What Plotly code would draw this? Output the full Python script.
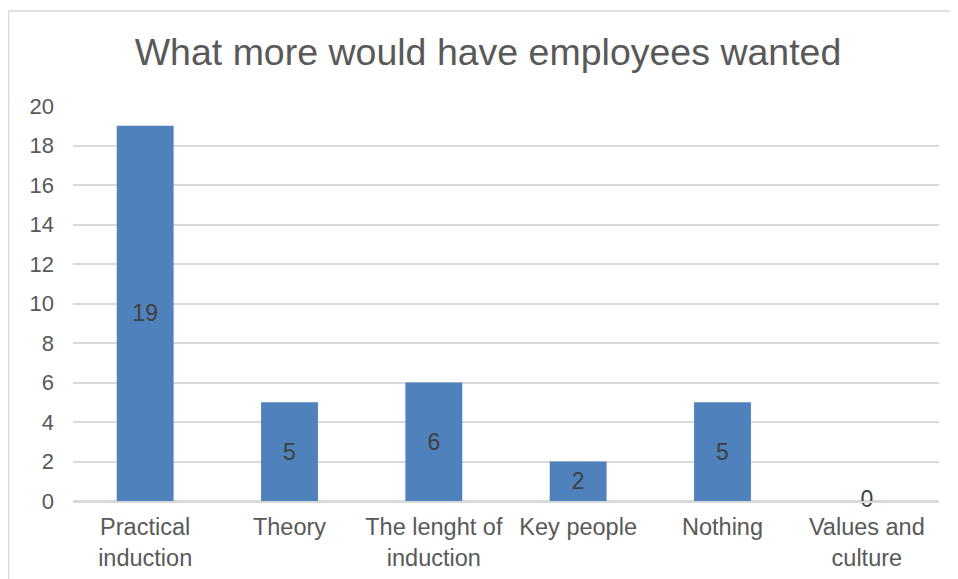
import plotly.graph_objects as go

categories = ["Practical<br>induction", "Theory", "The lenght of<br>induction", "Key people", "Nothing", "Values and<br>culture"]
values = [19, 5, 6, 2, 5, 0]
y_ticks = list(range(0, 21, 2))
title_text = "What more would have employees wanted"

BAR = "#4F81BD"
TXT = "#595959"
GRID = "#D9D9D9"
FONT = "Liberation Sans, Arial, sans-serif"

# the page body adds an 8px margin, so the figure is offset by 8px inside the 958x579 window
W, H = 942, 579

fig = go.Figure()
fig.add_trace(go.Bar(
    x=categories, y=values,
    marker=dict(color=BAR, line=dict(width=0)),
    text=[str(v) if v != 0 else "" for v in values],
    textposition=["inside" if v != 0 else "none" for v in values],
    insidetextanchor="middle",
    textfont=dict(family=FONT, size=23, color="#404040"),
    hoverinfo="skip",
))
zero_cats = [c for c, v in zip(categories, values) if v == 0]
zero_vals = [v for v in values if v == 0]
fig.add_trace(go.Scatter(
    x=zero_cats, y=zero_vals, mode="text",
    text=[str(v) for v in zero_vals],
    textposition="middle center",
    textfont=dict(family=FONT, size=23, color="#404040"),
    hoverinfo="skip", cliponaxis=False,
))

fig.update_layout(
    width=W, height=H,
    margin=dict(l=65, r=11, t=98, b=86),
    paper_bgcolor="white", plot_bgcolor="white",
    showlegend=False,
    bargap=0.606,
    title=dict(text=title_text, x=480 / W, xanchor="center", y=1 - 44 / H, yanchor="middle",
               font=dict(family=FONT, size=37.5, color=TXT), automargin=False),
    font=dict(family=FONT, color=TXT),
)
fig.update_xaxes(
    showgrid=False, showline=True, linecolor=GRID, linewidth=1.5,
    tickfont=dict(family=FONT, size=23.5, color=TXT),
    ticks="", ticklabelstandoff=4, fixedrange=True, automargin=False,
)
fig.update_yaxes(
    range=[0, 20], tickvals=y_ticks, showgrid=True, gridcolor=GRID, gridwidth=1.5,
    zeroline=True, zerolinecolor=GRID, zerolinewidth=1.5, showline=False,
    tickfont=dict(family=FONT, size=22, color=TXT),
    ticks="", ticklabelstandoff=18, fixedrange=True, automargin=False,
)
# chart-area border (left and top edges visible in the reference)
fig.add_shape(type="line", xref="paper", yref="paper", x0=-0.0745, x1=1.2, y0=1.2405, y1=1.2405,
              line=dict(color=GRID, width=1.5), layer="below")
fig.add_shape(type="line", xref="paper", yref="paper", x0=-0.0745, x1=-0.0745, y0=-0.3, y1=1.2405,
              line=dict(color=GRID, width=1.5), layer="below")

fig.write_html("out.html")
